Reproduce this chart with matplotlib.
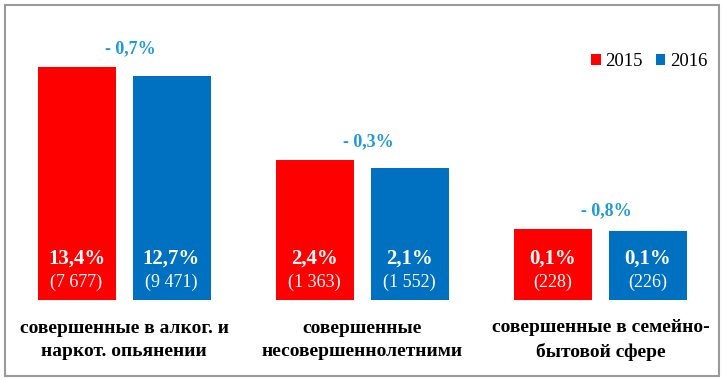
import matplotlib
matplotlib.use("Agg")
import matplotlib.pyplot as plt
from matplotlib.patches import Rectangle

categories = ["совершенные в алког. и\nнаркот. опьянении",
              "совершенные\nнесовершеннолетними",
              "совершенные в семейно-\nбытовой сфере"]
years = ["2015", "2016"]
# visual bar heights (chart is not to scale)
heights_2015 = [233, 140, 71]
heights_2016 = [224, 132, 69]
pct_2015 = ["13,4%", "2,4%", "0,1%"]
pct_2016 = ["12,7%", "2,1%", "0,1%"]
cnt_2015 = ["(7 677)", "(1 363)", "(228)"]
cnt_2016 = ["(9 471)", "(1 552)", "(226)"]
deltas = ["- 0,7%", "- 0,3%", "- 0,8%"]

RED = "#FF0000"
BLUE = "#0070C0"
DELTA = "#1E9AD8"
FONT = ["Liberation Serif", "DejaVu Serif"]

fig = plt.figure(figsize=(7.24, 3.80), dpi=100)
ax = fig.add_axes([0, 0, 1, 1])
ax.set_xlim(-124 / 238.25, 600 / 238.25)
ax.set_ylim(-80, 300)
ax.axis("off")

w = 78 / 238.25
off = 47.5 / 238.25
x = list(range(len(categories)))
ax.bar([i - off for i in x], heights_2015, width=w, color=RED, label=years[0])
ax.bar([i + off for i in x], heights_2016, width=w, color=BLUE, label=years[1])

for i in x:
    for xx, pc, cn in ((i - off, pct_2015[i], cnt_2015[i]), (i + off, pct_2016[i], cnt_2016[i])):
        ax.text(xx, 41, pc, ha="center", va="center", color="white",
                fontsize=15, fontweight="bold", family=FONT)
        ax.text(xx, 18, cn, ha="center", va="center", color="white",
                fontsize=13, family=FONT)
    top = max(heights_2015[i], heights_2016[i])
    ax.text(i + 6 / 238.25, top + 18, deltas[i], ha="center", va="center",
            color=DELTA, fontsize=13, fontweight="bold", family=FONT)
    ax.text(i, -40, categories[i], ha="center", va="center", color="black",
            fontsize=14, fontweight="bold", family=FONT, linespacing=1.5)

leg = ax.legend(loc="upper right", bbox_to_anchor=(0.995, 0.895), frameon=False,
                ncol=2, handlelength=0.5, handleheight=0.5, handletextpad=0.25,
                columnspacing=0.7, borderpad=0.2,
                prop={"family": FONT, "size": 13.5})

fig.patches.append(Rectangle((5 / 724, 4 / 380), 714 / 724, 371 / 380,
                             transform=fig.transFigure, fill=False,
                             edgecolor="#9a9a9a", linewidth=1.5))
fig.savefig("out.png", dpi=100)
